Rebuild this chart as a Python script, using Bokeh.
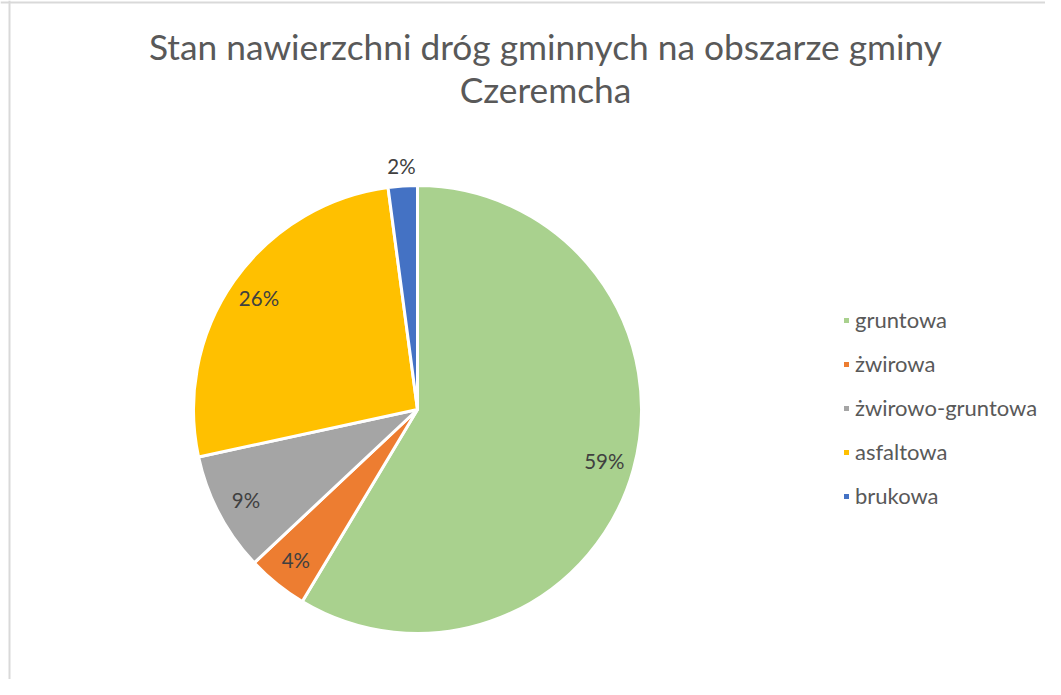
import math
from bokeh.plotting import figure
from bokeh.models import Range1d, Label, Span, ColumnDataSource
from bokeh.core.properties import value
from bokeh.embed import file_html
from bokeh.resources import INLINE

# ---- data ----
categories = ["gruntowa", "żwirowa", "żwirowo-gruntowa", "asfaltowa", "brukowa"]
shares = [58.6, 4.4, 8.6, 26.3, 2.1]
colors = ["#A9D18E", "#ED7D31", "#A5A5A5", "#FFC000", "#4472C4"]
title_lines = ["Stan nawierzchni dróg gminnych na obszarze gminy", "Czeremcha"]

# ---- layout ----
W, H = 1045, 679
CX, CY = 417, H - 409      # pie centre (data units == screen px)
R = 224                    # radius px
FONT = "Lato"

total = sum(shares)
fracs = [s / total for s in shares]
starts, ends, mids = [], [], []
cum = 0.0
for f in fracs:
    starts.append(math.pi / 2 - cum * 2 * math.pi)
    ends.append(math.pi / 2 - (cum + f) * 2 * math.pi)
    mids.append((cum + f / 2) * 2 * math.pi)   # clockwise from 12 o'clock
    cum += f

labels = [f"{round(f * 100)}%" for f in fracs]
lx, ly = [], []
for f, m in zip(fracs, mids):
    r = R * (1.09 if f < 0.03 else 0.865)
    lx.append(CX + r * math.sin(m))
    ly.append(CY + r * math.cos(m))

src = ColumnDataSource(dict(cat=categories, start=starts, end=ends, color=colors,
                            lab=labels, lx=lx, ly=ly))

p = figure(width=W, height=H, output_backend="svg", toolbar_location=None,
           x_range=Range1d(0, W), y_range=Range1d(0, H), min_border=0)
p.axis.visible = False
p.grid.visible = False
p.outline_line_color = None
p.background_fill_color = "white"
p.border_fill_color = "white"

p.wedge(x=CX, y=CY, radius=R, radius_units="screen", start_angle="start", end_angle="end",
        direction="clock", fill_color="color", line_color="white", line_width=3,
        legend_field="cat", source=src)

p.text(x="lx", y="ly", text="lab", source=src, text_align="center", text_baseline="middle",
       text_font=value(FONT), text_font_size="20.5px", text_color="#404040")

# title
for i, t in enumerate(title_lines):
    p.add_layout(Label(x=545, y=H - 46 - 43 * i, text=t, text_align="center", text_baseline="middle",
                       text_font=FONT, text_font_size="35.3px", text_color="#595959"))

# chart border (left & top)
p.add_layout(Span(location=9, dimension="height", line_color="#D9D9D9", line_width=2))
p.add_layout(Span(location=H - 2, dimension="width", line_color="#D9D9D9", line_width=2))

lg = p.legend[0]
lg.location = (841, 170)
lg.border_line_color = None
lg.background_fill_alpha = 0
lg.padding = 0
lg.margin = 0
lg.glyph_width = 10
lg.glyph_height = 10
lg.label_height = 24
lg.spacing = 17
lg.label_standoff = 4
lg.label_text_font = FONT
lg.label_text_font_size = "22px"
lg.label_text_color = "#595959"

open("out.html", "w").write(file_html(p, INLINE))
